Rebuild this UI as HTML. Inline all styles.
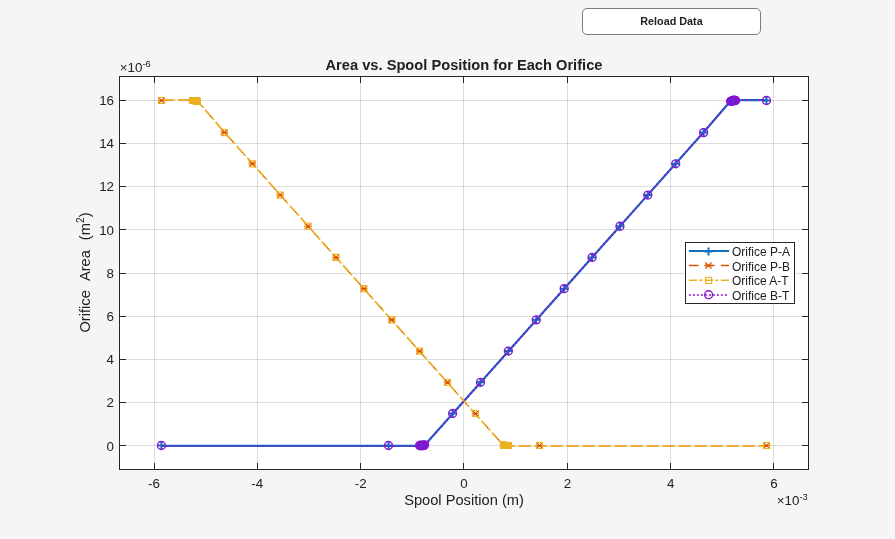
<!DOCTYPE html>
<html><head><meta charset="utf-8"><title>Area vs. Spool Position</title>
<style>
html,body{margin:0;padding:0;background:#F5F5F5;}
body{width:895px;height:539px;overflow:hidden;position:relative;font-family:"Liberation Sans",Arial,Helvetica,sans-serif;}
#btn{position:absolute;left:582px;top:8px;width:177px;height:25px;border:1px solid #7d7d7d;border-radius:5px;background:#fff;
 font-weight:bold;font-size:10.8px;color:#212121;text-align:center;line-height:25px}
svg{position:absolute;left:0;top:0}
svg text{font-family:"Liberation Sans",Arial,Helvetica,sans-serif;fill:#212121}
</style></head><body>
<div id="btn">Reload Data</div>
<svg width="895" height="539" viewBox="0 0 895 539">

<rect x="119.5" y="76.5" width="689.0" height="393.0" fill="#fff"/>
<g stroke="rgba(38,38,38,0.155)" stroke-width="1" shape-rendering="crispEdges">
<line x1="154.5" y1="76.5" x2="154.5" y2="469.5"/>
<line x1="257.5" y1="76.5" x2="257.5" y2="469.5"/>
<line x1="360.5" y1="76.5" x2="360.5" y2="469.5"/>
<line x1="463.5" y1="76.5" x2="463.5" y2="469.5"/>
<line x1="567.5" y1="76.5" x2="567.5" y2="469.5"/>
<line x1="670.5" y1="76.5" x2="670.5" y2="469.5"/>
<line x1="773.5" y1="76.5" x2="773.5" y2="469.5"/>
<line x1="119.5" y1="445.5" x2="808.5" y2="445.5"/>
<line x1="119.5" y1="402.5" x2="808.5" y2="402.5"/>
<line x1="119.5" y1="359.5" x2="808.5" y2="359.5"/>
<line x1="119.5" y1="316.5" x2="808.5" y2="316.5"/>
<line x1="119.5" y1="273.5" x2="808.5" y2="273.5"/>
<line x1="119.5" y1="229.5" x2="808.5" y2="229.5"/>
<line x1="119.5" y1="186.5" x2="808.5" y2="186.5"/>
<line x1="119.5" y1="143.5" x2="808.5" y2="143.5"/>
<line x1="119.5" y1="100.5" x2="808.5" y2="100.5"/>
</g>
<g fill="none" stroke-linejoin="round">
<polyline points="161.40,445.85 388.50,445.85 419.60,445.85 420.10,445.85 420.60,445.85 421.10,445.85 421.60,445.85 422.10,445.85 422.60,445.85 423.10,445.85 423.60,445.85 424.10,445.74 424.60,445.18 452.60,413.79 480.49,382.51 508.38,351.24 536.27,319.97 564.16,288.69 592.05,257.42 619.93,226.15 647.82,194.87 675.71,163.60 703.60,132.33 730.60,100.95 731.10,100.95 731.60,100.93 732.10,100.37 732.60,100.15 733.10,100.15 733.60,100.15 734.10,100.15 734.60,100.15 735.10,100.15 735.60,100.15 766.50,100.15" stroke="#1171BE" stroke-width="2.2"/>
<path d="M157.40 445.50H165.40M161.40 441.50V449.50M384.50 445.50H392.50M388.50 441.50V449.50M415.60 445.50H423.60M419.60 441.50V449.50M416.10 445.50H424.10M420.10 441.50V449.50M416.60 445.50H424.60M420.60 441.50V449.50M417.10 445.50H425.10M421.10 441.50V449.50M417.60 445.50H425.60M421.60 441.50V449.50M418.10 445.50H426.10M422.10 441.50V449.50M418.60 445.50H426.60M422.60 441.50V449.50M419.10 445.50H427.10M423.10 441.50V449.50M419.60 445.50H427.60M423.60 441.50V449.50M420.10 445.39H428.10M424.10 441.39V449.39M420.60 444.83H428.60M424.60 440.83V448.83M448.60 413.50H456.60M452.60 409.50V417.50M476.49 382.29H484.49M480.49 378.29V386.29M504.38 351.08H512.38M508.38 347.08V355.08M532.27 319.87H540.27M536.27 315.87V323.87M560.16 288.66H568.16M564.16 284.66V292.66M588.05 257.45H596.05M592.05 253.45V261.45M615.93 226.24H623.93M619.93 222.24V230.24M643.82 195.03H651.82M647.82 191.03V199.03M671.71 163.82H679.71M675.71 159.82V167.82M699.60 132.61H707.60M703.60 128.61V136.61M726.60 101.30H734.60M730.60 97.30V105.30M727.10 101.30H735.10M731.10 97.30V105.30M727.60 101.28H735.60M731.60 97.28V105.28M728.10 100.72H736.10M732.10 96.72V104.72M728.60 100.50H736.60M732.60 96.50V104.50M729.10 100.50H737.10M733.10 96.50V104.50M729.60 100.50H737.60M733.60 96.50V104.50M730.10 100.50H738.10M734.10 96.50V104.50M730.60 100.50H738.60M734.60 96.50V104.50M731.10 100.50H739.10M735.10 96.50V104.50M731.60 100.50H739.60M735.60 96.50V104.50M762.50 100.50H770.50M766.50 96.50V104.50" stroke="#1171BE" stroke-width="2"/>
<polyline points="161.50,100.00 192.40,100.00 192.90,100.00 193.40,100.00 193.90,100.00 194.40,100.00 194.90,100.00 195.40,100.00 195.90,100.22 196.40,100.78 196.90,100.80 197.40,100.80 224.40,132.20 252.29,163.50 280.18,194.80 308.07,226.10 335.95,257.40 363.84,288.71 391.73,320.01 419.62,351.31 447.51,382.61 475.40,413.91 503.40,445.33 503.90,445.89 504.40,446.00 504.90,446.00 505.40,446.00 505.90,446.00 506.40,446.00 506.90,446.00 507.40,446.00 507.90,446.00 508.40,446.00 539.50,446.00 766.60,446.00" stroke="#DD5400" stroke-width="1.2" stroke-dasharray="9.6 6.4" stroke-dashoffset="-1.5"/>
<polyline points="161.50,100.00 192.40,100.00 192.90,100.00 193.40,100.00 193.90,100.00 194.40,100.00 194.90,100.00 195.40,100.00 195.90,100.22 196.40,100.78 196.90,100.80 197.40,100.80 224.40,132.20 252.29,163.50 280.18,194.80 308.07,226.10 335.95,257.40 363.84,288.71 391.73,320.01 419.62,351.31 447.51,382.61 475.40,413.91 503.40,445.33 503.90,445.89 504.40,446.00 504.90,446.00 505.40,446.00 505.90,446.00 506.40,446.00 506.90,446.00 507.40,446.00 507.90,446.00 508.40,446.00 539.50,446.00 766.60,446.00" stroke="#EDB120" stroke-width="1.6" stroke-dasharray="8.2 2 3.3 2.5"/>
<path d="M158.10 100.50H164.90M158.40 97.40L164.60 103.60M158.40 103.60L164.60 97.40M189.00 100.50H195.80M189.30 97.40L195.50 103.60M189.30 103.60L195.50 97.40M189.50 100.50H196.30M189.80 97.40L196.00 103.60M189.80 103.60L196.00 97.40M190.00 100.50H196.80M190.30 97.40L196.50 103.60M190.30 103.60L196.50 97.40M190.50 100.50H197.30M190.80 97.40L197.00 103.60M190.80 103.60L197.00 97.40M191.00 100.50H197.80M191.30 97.40L197.50 103.60M191.30 103.60L197.50 97.40M191.50 100.50H198.30M191.80 97.40L198.00 103.60M191.80 103.60L198.00 97.40M192.00 100.50H198.80M192.30 97.40L198.50 103.60M192.30 103.60L198.50 97.40M192.50 100.72H199.30M192.80 97.62L199.00 103.82M192.80 103.82L199.00 97.62M193.00 101.28H199.80M193.30 98.18L199.50 104.38M193.30 104.38L199.50 98.18M193.50 101.30H200.30M193.80 98.20L200.00 104.40M193.80 104.40L200.00 98.20M194.00 101.30H200.80M194.30 98.20L200.50 104.40M194.30 104.40L200.50 98.20M221.00 132.61H227.80M221.30 129.51L227.50 135.71M221.30 135.71L227.50 129.51M248.89 163.82H255.69M249.19 160.72L255.39 166.92M249.19 166.92L255.39 160.72M276.78 195.03H283.58M277.08 191.93L283.28 198.13M277.08 198.13L283.28 191.93M304.67 226.24H311.47M304.97 223.14L311.17 229.34M304.97 229.34L311.17 223.14M332.55 257.45H339.35M332.85 254.35L339.05 260.55M332.85 260.55L339.05 254.35M360.44 288.66H367.24M360.74 285.56L366.94 291.76M360.74 291.76L366.94 285.56M388.33 319.87H395.13M388.63 316.77L394.83 322.97M388.63 322.97L394.83 316.77M416.22 351.08H423.02M416.52 347.98L422.72 354.18M416.52 354.18L422.72 347.98M444.11 382.29H450.91M444.41 379.19L450.61 385.39M444.41 385.39L450.61 379.19M472.00 413.50H478.80M472.30 410.40L478.50 416.60M472.30 416.60L478.50 410.40M500.00 444.83H506.80M500.30 441.73L506.50 447.93M500.30 447.93L506.50 441.73M500.50 445.39H507.30M500.80 442.29L507.00 448.49M500.80 448.49L507.00 442.29M501.00 445.50H507.80M501.30 442.40L507.50 448.60M501.30 448.60L507.50 442.40M501.50 445.50H508.30M501.80 442.40L508.00 448.60M501.80 448.60L508.00 442.40M502.00 445.50H508.80M502.30 442.40L508.50 448.60M502.30 448.60L508.50 442.40M502.50 445.50H509.30M502.80 442.40L509.00 448.60M502.80 448.60L509.00 442.40M503.00 445.50H509.80M503.30 442.40L509.50 448.60M503.30 448.60L509.50 442.40M503.50 445.50H510.30M503.80 442.40L510.00 448.60M503.80 448.60L510.00 442.40M504.00 445.50H510.80M504.30 442.40L510.50 448.60M504.30 448.60L510.50 442.40M504.50 445.50H511.30M504.80 442.40L511.00 448.60M504.80 448.60L511.00 442.40M505.00 445.50H511.80M505.30 442.40L511.50 448.60M505.30 448.60L511.50 442.40M536.10 445.50H542.90M536.40 442.40L542.60 448.60M536.40 448.60L542.60 442.40M763.20 445.50H770.00M763.50 442.40L769.70 448.60M763.50 448.60L769.70 442.40" stroke="#DD5400" stroke-width="1.15"/>
<rect x="158.45" y="97.45" width="6.1" height="6.1" stroke="#EDB120" stroke-width="1.1"/>
<rect x="189.35" y="97.45" width="6.1" height="6.1" stroke="#EDB120" stroke-width="1.1"/>
<rect x="189.85" y="97.45" width="6.1" height="6.1" stroke="#EDB120" stroke-width="1.1"/>
<rect x="190.35" y="97.45" width="6.1" height="6.1" stroke="#EDB120" stroke-width="1.1"/>
<rect x="190.85" y="97.45" width="6.1" height="6.1" stroke="#EDB120" stroke-width="1.1"/>
<rect x="191.35" y="97.45" width="6.1" height="6.1" stroke="#EDB120" stroke-width="1.1"/>
<rect x="191.85" y="97.45" width="6.1" height="6.1" stroke="#EDB120" stroke-width="1.1"/>
<rect x="192.35" y="97.45" width="6.1" height="6.1" stroke="#EDB120" stroke-width="1.1"/>
<rect x="192.85" y="97.67" width="6.1" height="6.1" stroke="#EDB120" stroke-width="1.1"/>
<rect x="193.35" y="98.23" width="6.1" height="6.1" stroke="#EDB120" stroke-width="1.1"/>
<rect x="193.85" y="98.25" width="6.1" height="6.1" stroke="#EDB120" stroke-width="1.1"/>
<rect x="194.35" y="98.25" width="6.1" height="6.1" stroke="#EDB120" stroke-width="1.1"/>
<rect x="221.35" y="129.56" width="6.1" height="6.1" stroke="#EDB120" stroke-width="1.1"/>
<rect x="249.24" y="160.77" width="6.1" height="6.1" stroke="#EDB120" stroke-width="1.1"/>
<rect x="277.13" y="191.98" width="6.1" height="6.1" stroke="#EDB120" stroke-width="1.1"/>
<rect x="305.02" y="223.19" width="6.1" height="6.1" stroke="#EDB120" stroke-width="1.1"/>
<rect x="332.90" y="254.40" width="6.1" height="6.1" stroke="#EDB120" stroke-width="1.1"/>
<rect x="360.79" y="285.61" width="6.1" height="6.1" stroke="#EDB120" stroke-width="1.1"/>
<rect x="388.68" y="316.82" width="6.1" height="6.1" stroke="#EDB120" stroke-width="1.1"/>
<rect x="416.57" y="348.03" width="6.1" height="6.1" stroke="#EDB120" stroke-width="1.1"/>
<rect x="444.46" y="379.24" width="6.1" height="6.1" stroke="#EDB120" stroke-width="1.1"/>
<rect x="472.35" y="410.45" width="6.1" height="6.1" stroke="#EDB120" stroke-width="1.1"/>
<rect x="500.35" y="441.78" width="6.1" height="6.1" stroke="#EDB120" stroke-width="1.1"/>
<rect x="500.85" y="442.34" width="6.1" height="6.1" stroke="#EDB120" stroke-width="1.1"/>
<rect x="501.35" y="442.45" width="6.1" height="6.1" stroke="#EDB120" stroke-width="1.1"/>
<rect x="501.85" y="442.45" width="6.1" height="6.1" stroke="#EDB120" stroke-width="1.1"/>
<rect x="502.35" y="442.45" width="6.1" height="6.1" stroke="#EDB120" stroke-width="1.1"/>
<rect x="502.85" y="442.45" width="6.1" height="6.1" stroke="#EDB120" stroke-width="1.1"/>
<rect x="503.35" y="442.45" width="6.1" height="6.1" stroke="#EDB120" stroke-width="1.1"/>
<rect x="503.85" y="442.45" width="6.1" height="6.1" stroke="#EDB120" stroke-width="1.1"/>
<rect x="504.35" y="442.45" width="6.1" height="6.1" stroke="#EDB120" stroke-width="1.1"/>
<rect x="504.85" y="442.45" width="6.1" height="6.1" stroke="#EDB120" stroke-width="1.1"/>
<rect x="505.35" y="442.45" width="6.1" height="6.1" stroke="#EDB120" stroke-width="1.1"/>
<rect x="536.45" y="442.45" width="6.1" height="6.1" stroke="#EDB120" stroke-width="1.1"/>
<rect x="763.55" y="442.45" width="6.1" height="6.1" stroke="#EDB120" stroke-width="1.1"/>
<polyline points="161.40,446.00 388.50,446.00 419.60,446.00 420.10,446.00 420.60,446.00 421.10,446.00 421.60,446.00 422.10,446.00 422.60,446.00 423.10,446.00 423.60,446.00 424.10,445.89 424.60,445.33 452.60,413.91 480.49,382.61 508.38,351.31 536.27,320.01 564.16,288.71 592.05,257.40 619.93,226.10 647.82,194.80 675.71,163.50 703.60,132.20 730.60,100.80 731.10,100.80 731.60,100.78 732.10,100.22 732.60,100.00 733.10,100.00 733.60,100.00 734.10,100.00 734.60,100.00 735.10,100.00 735.60,100.00 766.50,100.00" stroke="#8516D1" stroke-width="1.7" stroke-dasharray="2 2"/>
<circle cx="161.40" cy="445.50" r="3.95" stroke="#8516D1" stroke-width="1.4"/>
<circle cx="388.50" cy="445.50" r="3.95" stroke="#8516D1" stroke-width="1.4"/>
<circle cx="419.60" cy="445.50" r="3.95" stroke="#8516D1" stroke-width="1.4"/>
<circle cx="420.10" cy="445.50" r="3.95" stroke="#8516D1" stroke-width="1.4"/>
<circle cx="420.60" cy="445.50" r="3.95" stroke="#8516D1" stroke-width="1.4"/>
<circle cx="421.10" cy="445.50" r="3.95" stroke="#8516D1" stroke-width="1.4"/>
<circle cx="421.60" cy="445.50" r="3.95" stroke="#8516D1" stroke-width="1.4"/>
<circle cx="422.10" cy="445.50" r="3.95" stroke="#8516D1" stroke-width="1.4"/>
<circle cx="422.60" cy="445.50" r="3.95" stroke="#8516D1" stroke-width="1.4"/>
<circle cx="423.10" cy="445.50" r="3.95" stroke="#8516D1" stroke-width="1.4"/>
<circle cx="423.60" cy="445.50" r="3.95" stroke="#8516D1" stroke-width="1.4"/>
<circle cx="424.10" cy="445.39" r="3.95" stroke="#8516D1" stroke-width="1.4"/>
<circle cx="424.60" cy="444.83" r="3.95" stroke="#8516D1" stroke-width="1.4"/>
<circle cx="452.60" cy="413.50" r="3.95" stroke="#8516D1" stroke-width="1.4"/>
<circle cx="480.49" cy="382.29" r="3.95" stroke="#8516D1" stroke-width="1.4"/>
<circle cx="508.38" cy="351.08" r="3.95" stroke="#8516D1" stroke-width="1.4"/>
<circle cx="536.27" cy="319.87" r="3.95" stroke="#8516D1" stroke-width="1.4"/>
<circle cx="564.16" cy="288.66" r="3.95" stroke="#8516D1" stroke-width="1.4"/>
<circle cx="592.05" cy="257.45" r="3.95" stroke="#8516D1" stroke-width="1.4"/>
<circle cx="619.93" cy="226.24" r="3.95" stroke="#8516D1" stroke-width="1.4"/>
<circle cx="647.82" cy="195.03" r="3.95" stroke="#8516D1" stroke-width="1.4"/>
<circle cx="675.71" cy="163.82" r="3.95" stroke="#8516D1" stroke-width="1.4"/>
<circle cx="703.60" cy="132.61" r="3.95" stroke="#8516D1" stroke-width="1.4"/>
<circle cx="730.60" cy="101.30" r="3.95" stroke="#8516D1" stroke-width="1.4"/>
<circle cx="731.10" cy="101.30" r="3.95" stroke="#8516D1" stroke-width="1.4"/>
<circle cx="731.60" cy="101.28" r="3.95" stroke="#8516D1" stroke-width="1.4"/>
<circle cx="732.10" cy="100.72" r="3.95" stroke="#8516D1" stroke-width="1.4"/>
<circle cx="732.60" cy="100.50" r="3.95" stroke="#8516D1" stroke-width="1.4"/>
<circle cx="733.10" cy="100.50" r="3.95" stroke="#8516D1" stroke-width="1.4"/>
<circle cx="733.60" cy="100.50" r="3.95" stroke="#8516D1" stroke-width="1.4"/>
<circle cx="734.10" cy="100.50" r="3.95" stroke="#8516D1" stroke-width="1.4"/>
<circle cx="734.60" cy="100.50" r="3.95" stroke="#8516D1" stroke-width="1.4"/>
<circle cx="735.10" cy="100.50" r="3.95" stroke="#8516D1" stroke-width="1.4"/>
<circle cx="735.60" cy="100.50" r="3.95" stroke="#8516D1" stroke-width="1.4"/>
<circle cx="766.50" cy="100.50" r="3.95" stroke="#8516D1" stroke-width="1.4"/>
</g>
<g stroke="#262626" stroke-width="1" fill="none" shape-rendering="crispEdges">
<rect x="119.5" y="76.5" width="689.0" height="393.0"/>
<path d="M154.5 470.0v-7M154.5 76.0v7"/>
<path d="M257.5 470.0v-7M257.5 76.0v7"/>
<path d="M360.5 470.0v-7M360.5 76.0v7"/>
<path d="M463.5 470.0v-7M463.5 76.0v7"/>
<path d="M567.5 470.0v-7M567.5 76.0v7"/>
<path d="M670.5 470.0v-7M670.5 76.0v7"/>
<path d="M773.5 470.0v-7M773.5 76.0v7"/>
<path d="M119.0 445.5h7M809.0 445.5h-7"/>
<path d="M119.0 402.5h7M809.0 402.5h-7"/>
<path d="M119.0 359.5h7M809.0 359.5h-7"/>
<path d="M119.0 316.5h7M809.0 316.5h-7"/>
<path d="M119.0 273.5h7M809.0 273.5h-7"/>
<path d="M119.0 229.5h7M809.0 229.5h-7"/>
<path d="M119.0 186.5h7M809.0 186.5h-7"/>
<path d="M119.0 143.5h7M809.0 143.5h-7"/>
<path d="M119.0 100.5h7M809.0 100.5h-7"/>
</g>
<text x="153.92" y="488" font-size="13.33" text-anchor="middle">-6</text>
<text x="257.28" y="488" font-size="13.33" text-anchor="middle">-4</text>
<text x="360.64" y="488" font-size="13.33" text-anchor="middle">-2</text>
<text x="464.00" y="488" font-size="13.33" text-anchor="middle">0</text>
<text x="567.36" y="488" font-size="13.33" text-anchor="middle">2</text>
<text x="670.72" y="488" font-size="13.33" text-anchor="middle">4</text>
<text x="774.08" y="488" font-size="13.33" text-anchor="middle">6</text>
<text x="114" y="450.8" font-size="13.33" text-anchor="end">0</text>
<text x="114" y="407.4" font-size="13.33" text-anchor="end">2</text>
<text x="114" y="364.0" font-size="13.33" text-anchor="end">4</text>
<text x="114" y="320.9" font-size="13.33" text-anchor="end">6</text>
<text x="114" y="277.8" font-size="13.33" text-anchor="end">8</text>
<text x="114" y="234.6" font-size="13.33" text-anchor="end">10</text>
<text x="114" y="191.3" font-size="13.33" text-anchor="end">12</text>
<text x="114" y="147.8" font-size="13.33" text-anchor="end">14</text>
<text x="114" y="104.9" font-size="13.33" text-anchor="end">16</text>
<text x="119.8" y="72" font-size="13.33">×10<tspan dy="-5" font-size="9.33">-6</tspan></text>
<text x="807.7" y="504.8" font-size="13.33" text-anchor="end">×10<tspan dy="-5" font-size="9.33">-3</tspan></text>
<text x="464" y="70" font-size="14.67" font-weight="bold" text-anchor="middle">Area vs. Spool Position for Each Orifice</text>
<text x="464" y="504.5" font-size="14.67" text-anchor="middle">Spool Position (m)</text>
<text transform="translate(89.8,272.5) rotate(-90)" font-size="14.67" text-anchor="middle" xml:space="preserve" style="word-spacing:0.9px">Orifice  Area  (m<tspan dy="-5.5" font-size="10.3">2</tspan><tspan dy="5.5">)</tspan></text>
<rect x="685.5" y="242.5" width="109.0" height="61.0" fill="#fff" stroke="#262626" stroke-width="1" shape-rendering="crispEdges"/>
<g fill="none">
<path d="M688.9 251H729.0" stroke="#1171BE" stroke-width="2"/><path d="M704.50 251.50H712.50M708.50 247.50V255.50" stroke="#1171BE" stroke-width="2"/>
<path d="M688.9 265.5H729.0" stroke="#DD5400" stroke-width="1.45" stroke-dasharray="9.6 6.4"/>
<path d="M704.50 265.50H712.50M705.40 262.40L711.60 268.60M705.40 268.60L711.60 262.40" stroke="#DD5400" stroke-width="1.3"/>
<path d="M688.9 280.2H729.0" stroke="#EDB120" stroke-width="1.45" stroke-dasharray="8.2 2 3.3 2.5"/>
<rect x="705.5" y="277.4" width="6.1" height="6.1" stroke="#EDB120" stroke-width="1.1"/>
<path d="M688.9 294.9H728.0" stroke="#8516D1" stroke-width="1.45" stroke-dasharray="2 2"/>
<circle cx="708.6" cy="294.7" r="3.95" stroke="#8516D1" stroke-width="1.4"/>
</g>
<text x="731.9" y="256.10" font-size="12">Orifice P-A</text>
<text x="731.9" y="271.10" font-size="12">Orifice P-B</text>
<text x="731.9" y="284.90" font-size="12">Orifice A-T</text>
<text x="731.9" y="299.80" font-size="12">Orifice B-T</text>
</svg></body></html>
